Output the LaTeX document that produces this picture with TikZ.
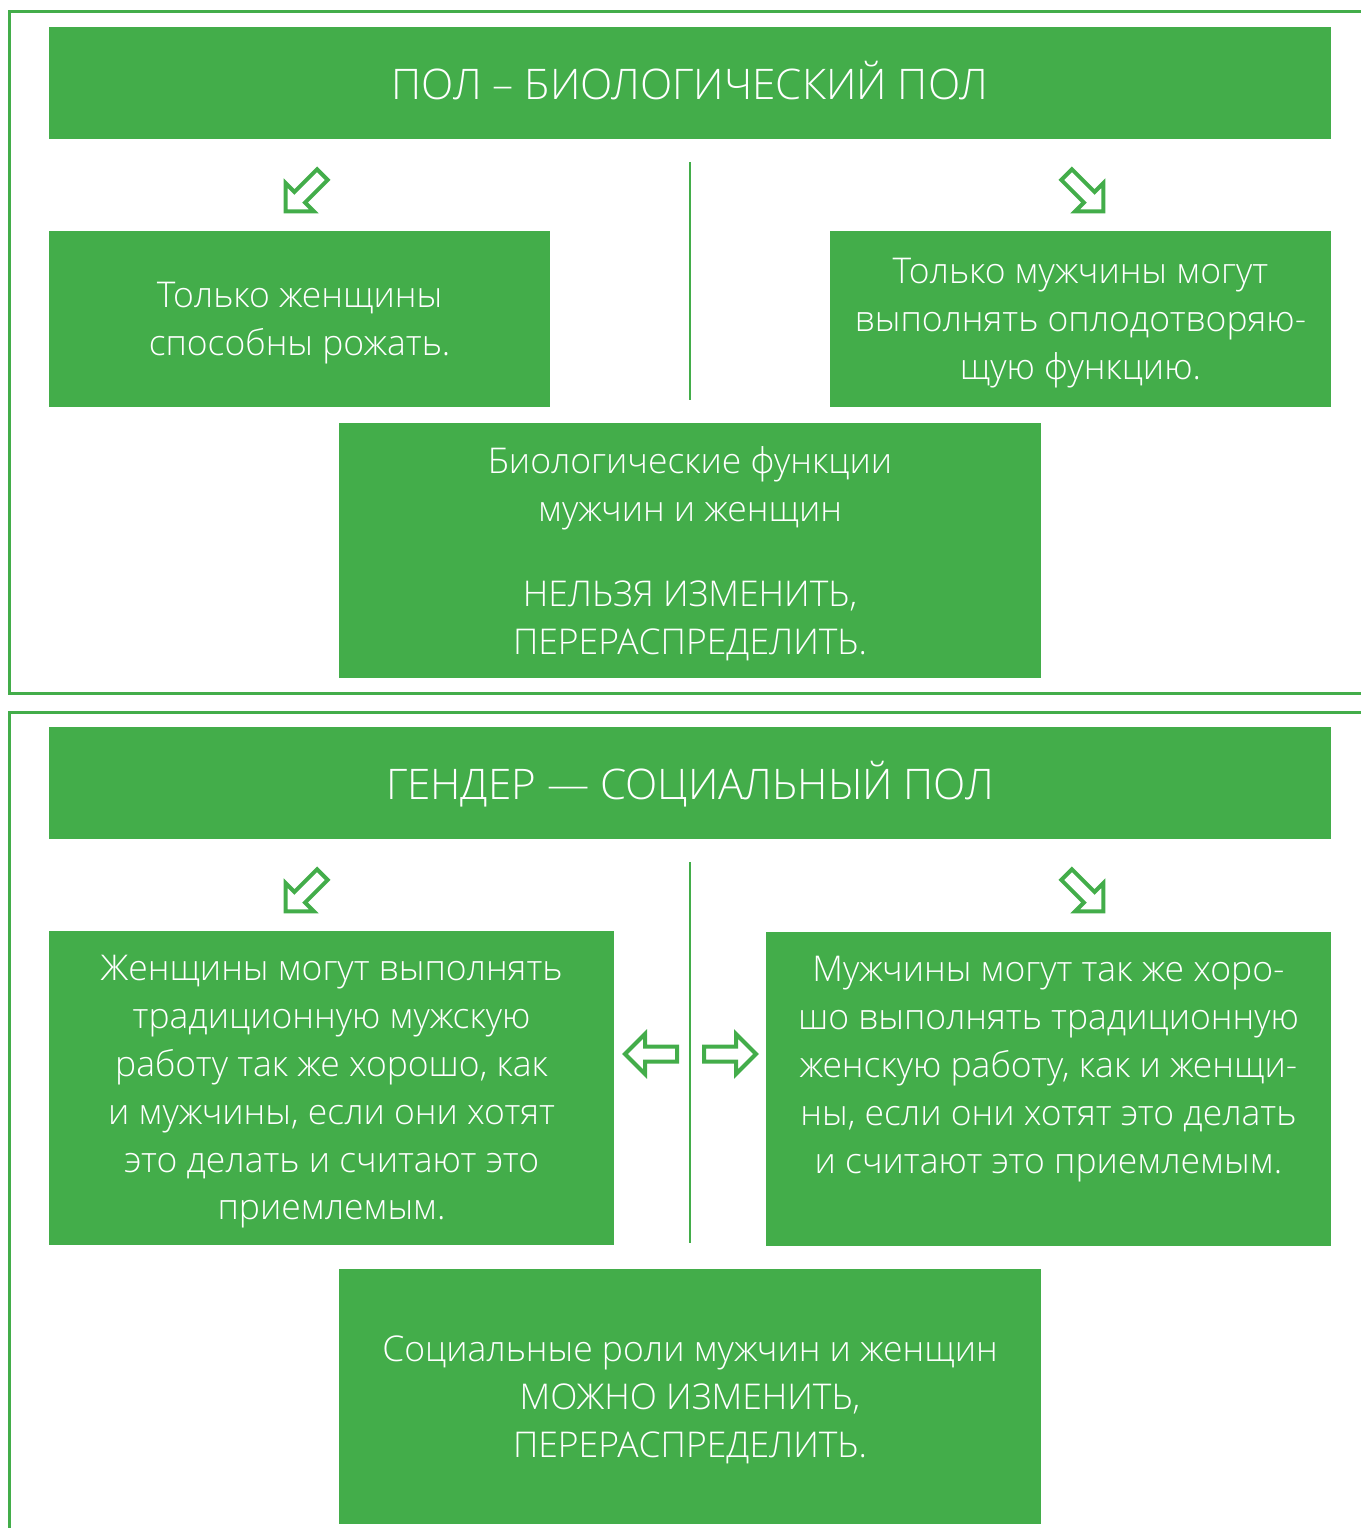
\documentclass[tikz,border=0pt]{standalone}
\usepackage{fontspec}
\IfFontExistsTF{Open Sans Light}{\setmainfont{Open Sans Light}}{\setmainfont{Open Sans}}
\usetikzlibrary{positioning}
\definecolor{pgreen}{RGB}{67,173,74}
\tikzstyle{frame}=[draw=pgreen,line width=0.06cm]
\tikzstyle{divider}=[draw=pgreen,line width=0.05cm]
\tikzstyle{Abox}=[fill=pgreen,text=white,align=center,inner sep=0,text depth=0pt,
                font=\fontsize{20.2}{27.2}\selectfont]
\tikzstyle{Ahead}=[Abox,minimum width=25.64cm,minimum height=2.24cm,text depth=3.4pt,
                font=\fontsize{24}{28}\selectfont]
\tikzstyle{Ahalf}=[Abox,minimum width=10.02cm,minimum height=3.52cm]
\tikzstyle{Amid}=[Abox,minimum width=14.04cm,minimum height=5.1cm]
\tikzstyle{Asoc}=[Abox,minimum width=11.3cm,minimum height=6.28cm]
\tikzstyle{barrow}=[draw=pgreen,line width=0.08cm,line join=miter]
\tikzset{hollow arrow/.pic={
  \path[barrow] (-26,-7.5) -- (6,-7.5) -- (6,-20) -- (26,0) -- (6,20)
    -- (6,7.5) -- (-26,7.5) -- cycle;}}

\begin{document}
\begin{tikzpicture}[x=0.02cm,y=-0.02cm]
\useasboundingbox (0,0) rectangle (1361,1528);

% frames
\draw[frame] (1362,11.5) -- (9.5,11.5) -- (9.5,693) -- (1362,693);
\draw[frame] (1362,712) -- (9.5,712) -- (9.5,1530);

% biological sex
\node[Ahead] (sex) at (690,83) {ПОЛ – БИОЛОГИЧЕСКИЙ ПОЛ};
\node[Ahalf,below=1.82cm of sex.south west,anchor=north west] (sexF)
{Только женщины\\способны рожать.};
\node[Ahalf,below=1.82cm of sex.south east,anchor=north east] (sexM)
{Только мужчины могут\\выполнять оплодотворяю-\\щую функцию.};
\node[Amid] (sexC) at (690,550.5)
{Биологические функции\\мужчин и женщин\\[0.76cm]НЕЛЬЗЯ ИЗМЕНИТЬ,\\ПЕРЕРАСПРЕДЕЛИТЬ.};

\draw[divider] (690,162) -- (690,400);
\pic[rotate=225] at (304,193) {hollow arrow};
\pic[rotate=-45] at (1085,193) {hollow arrow};

% gender
\node[Ahead] (gen) at (690,783) {ГЕНДЕР — СОЦИАЛЬНЫЙ ПОЛ};
\node[Asoc,below=1.82cm of gen.south west,anchor=north west] (genF)
{Женщины могут выполнять\\традиционную мужскую\\работу так же хорошо, как\\и мужчины, если они хотят\\это делать и считают это\\приемлемым.};
\node[Asoc,below=1.84cm of gen.south east,anchor=north east] (genM)
{Мужчины могут так же хоро-\\шо выполнять традиционную\\женскую работу, как и женщи-\\ны, если они хотят это делать\\и считают это приемлемым.\\\mbox{}};
\node[Amid] (genC) at (690,1396.5)
{Социальные роли мужчин и женщин\\МОЖНО ИЗМЕНИТЬ,\\ПЕРЕРАСПРЕДЕЛИТЬ.};

\draw[divider] (690,862) -- (690,1243);
\pic[rotate=225] at (304,893) {hollow arrow};
\pic[rotate=-45] at (1085,893) {hollow arrow};
\pic[rotate=180] at (651,1054) {hollow arrow};
\pic at (730,1054) {hollow arrow};
\end{tikzpicture}
\end{document}
